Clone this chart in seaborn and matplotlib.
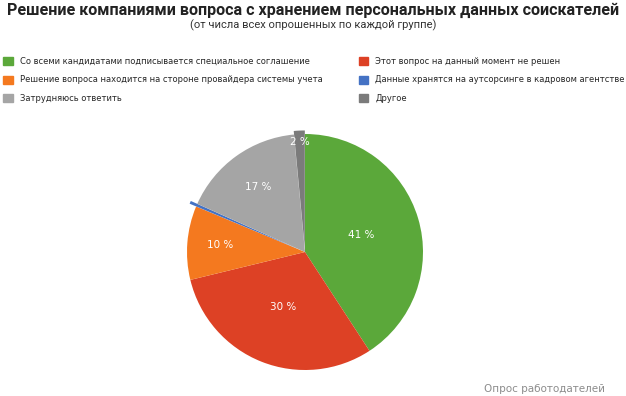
import matplotlib
matplotlib.use('Agg')
import matplotlib.pyplot as plt
import matplotlib.patches as mpatches
import seaborn as sns
import numpy as np

# Data
categories = [
    'Со всеми кандидатами подписывается специальное соглашение',
    'Этот вопрос на данный момент не решен',
    'Решение вопроса находится на стороне провайдера системы учета',
    'Данные хранятся на аутсорсинге в кадровом агентстве',
    'Затрудняюсь ответить',
    'Другое',
]
values = [40.8, 30.4, 10.1, 0.4, 16.8, 1.5]
labels = ['41 %', '30 %', '10 %', '', '17 %', '2 %']
colors = ['#5ba83a', '#dd4125', '#f4791f', '#4472c4', '#a5a5a5', '#7b7b7b']
explode = [0, 0, 0, 0.06, 0, 0.03]

sns.set_theme(style='white')
plt.rcParams['font.family'] = ['DejaVu Sans']

fig = plt.figure(figsize=(6.26, 3.96), dpi=100)

# Title
fig.text(0.5, 0.993, 'Решение компаниями вопроса с хранением персональных данных соискателей',
         ha='center', va='top', fontsize=11.6, fontweight='bold', color='#222222',
         family='Roboto')
fig.text(0.5, 0.952, '(от числа всех опрошенных по каждой группе)',
         ha='center', va='top', fontsize=8, color='#333333', family='Roboto')

# Pie
ax = fig.add_axes([187 / 626, 26 / 396, 236 / 626, 236 / 396])
wedges, texts = ax.pie(values, colors=colors, startangle=90, counterclock=False,
                       explode=explode, radius=1, wedgeprops=dict(linewidth=0))
label_r = [0.5, 0.5, 0.72, 0, 0.68, 0.93]
ang = 90
for v, lab, r in zip(values, labels, label_r):
    mid = ang - v / sum(values) * 360 / 2
    ang -= v / sum(values) * 360
    if lab:
        ax.text(r * np.cos(np.radians(mid)), r * np.sin(np.radians(mid)), lab,
                ha='center', va='center', color='white', fontsize=7.5)
ax.set_xlim(-1, 1)
ax.set_ylim(-1, 1)
ax.set_aspect('equal')
ax.axis('off')

# Legend, two columns
order = [0, 2, 4, 1, 3, 5]
handles = [mpatches.Patch(color=colors[i], label=categories[i]) for i in order]
fig.legend(handles=handles, ncol=2, loc='upper left', bbox_to_anchor=(0.0, 0.865),
           frameon=False, fontsize=6, handlelength=1.1, handleheight=1.1,
           handletextpad=0.9, labelspacing=1.15, columnspacing=4.3, borderaxespad=0)

fig.text(0.966, 0.005, 'Опрос работодателей', ha='right', va='bottom',
         fontsize=7.5, color='#8c8c8c')

fig.savefig('out.png', dpi=100)
